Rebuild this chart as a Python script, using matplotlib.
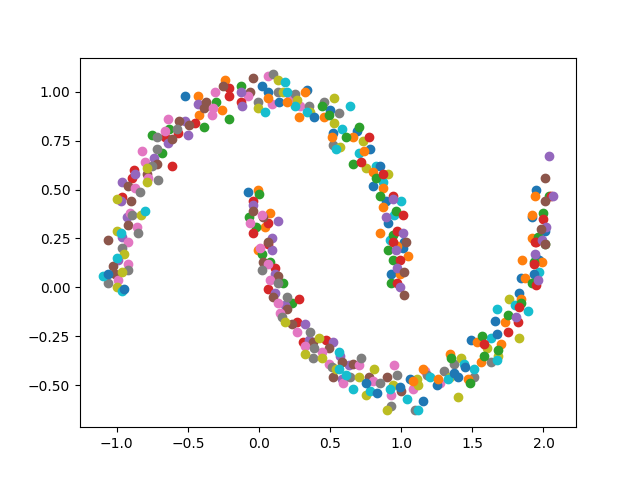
import matplotlib
matplotlib.use("Agg")
import matplotlib.pyplot as plt

# Points (two interleaving half-moons)
xs = [
 -0.52,-0.24,-0.13,-0.21,-0.13,-0.25,-0.31,-0.43,-0.30,-0.21,-0.43,-0.39,-0.33,-0.26,-0.21,-0.13,-0.12,-0.37,-0.32,-0.42,
 -0.39,-0.45,-0.52,-0.56,-0.64,-0.58,-0.63,-0.57,-0.50,-0.49,-0.66,-0.72,-0.75,-0.66,-0.64,-0.61,-0.82,-0.72,-0.68,-0.61,
 -0.74,-0.72,-0.80,-0.75,-0.79,-0.88,-0.87,-0.79,-0.78,-0.71,-0.79,-0.89,-0.96,-0.92,-0.87,-0.84,-1.00,-0.96,-0.97,-0.90,
 -0.91,-0.89,-0.83,-0.80,-0.93,-0.92,-0.86,-0.85,-1.00,-0.97,-0.96,-1.06,-0.92,-0.96,
 -0.95,-1.00,-0.99,-1.03,-0.92,-0.92,-0.96,-1.10,-1.06,-1.01,-0.99,-1.06,-1.00,-0.96,-0.95,
 -0.04,0.06,0.10,0.13,0.18,0.02,-0.06,-0.08,-0.01,-0.01,0.04,0.06,0.06,0.09,0.13,0.17,0.20,0.14,0.20,0.22,
 0.25,0.27,0.25,0.34,0.32,0.29,0.35,0.36,0.34,0.39,0.28,0.44,0.46,0.53,0.64,0.50,0.46,0.49,0.56,0.53,
 0.58,0.52,0.51,0.61,0.52,0.57,0.54,0.69,0.66,0.70,0.77,0.73,0.70,0.78,0.74,0.66,0.72,0.75,0.82,0.85,
 0.80,0.82,0.87,0.91,0.87,0.80,0.87,0.85,0.94,0.94,1.00,0.89,0.87,0.96,1.01,0.89,0.95,0.91,0.85,0.94,
 0.97,1.01,0.92,1.02,0.97,
 0.91,0.94,0.96,1.03,1.01,1.05,0.94,0.99,0.97,1.02,0.93,0.99,0.93,0.97,0.99,1.02,
 -0.08,-0.01,0.00,-0.04,-0.04,-0.04,0.02,0.08,-0.07,0.06,0.13,0.03,-0.06,0.04,-0.02,-0.04,0.09,0.06,0.01,
 -0.01,0.02,0.06,0.09,0.03,0.06,0.02,0.08,0.11,0.11,0.13,0.08,0.13,0.17,0.06,0.11,0.10,0.13,0.20,0.23,
 0.28,0.18,0.20,0.15,0.16,0.18,0.27,0.32,0.23,0.27,0.36,0.42,0.31,0.35,0.38,0.32,0.39,0.32,0.47,0.52,
 0.49,0.44,0.38,0.44,0.56,0.57,0.58,0.49,0.51,0.54,0.56,0.63,0.66,0.70,0.72,0.81,0.61,0.58,0.52,0.59,
 0.64,0.70,0.66,0.75,0.77,0.80,0.85,0.75,0.78,0.83,0.90,0.95,0.97,0.94,0.92,0.99,1.00,0.93,0.93,0.90,
 1.04,1.06,1.08,1.08,1.10,
 1.11,1.12,1.15,1.15,1.17,1.18,1.12,1.20,1.25,1.26,1.27,1.30,1.34,1.33,1.37,1.34,1.35,1.37,1.42,1.44,
 1.40,1.47,1.48,1.51,1.40,1.51,1.45,1.56,1.58,1.63,1.68,1.67,1.49,1.53,1.57,1.58,1.60,1.63,1.67,1.70,
 1.68,1.75,1.83,1.67,1.66,1.73,1.75,1.82,1.76,1.80,1.83,1.84,1.84,1.83,1.81,1.89,1.84,1.87,1.92,1.95,
 1.96,1.97,1.93,1.85,1.93,1.93,1.94,1.95,1.97,1.99,2.01,1.95,
 2.04,2.01,1.95,1.94,2.04,2.05,2.07,2.01,1.92,1.92,2.00,2.00,2.02,1.98,2.01,1.92,1.96,1.94,1.99,2.01,
]
ys = [
 0.98,1.06,1.03,1.02,1.00,1.03,1.00,0.98,0.95,0.98,0.94,0.92,0.88,0.91,0.86,0.95,0.93,0.95,0.92,0.88,
 0.82,0.84,0.85,0.85,0.86,0.81,0.81,0.79,0.78,0.83,0.80,0.77,0.78,0.77,0.74,0.76,0.70,0.71,0.69,0.62,
 0.66,0.63,0.64,0.62,0.61,0.60,0.58,0.58,0.56,0.55,0.54,0.56,0.54,0.52,0.51,0.49,0.45,0.46,0.44,0.44,
 0.38,0.37,0.37,0.39,0.36,0.32,0.31,0.28,0.29,0.28,0.26,0.24,0.23,0.20,
 0.17,0.15,0.14,0.11,0.12,0.09,0.08,0.06,0.07,0.07,0.04,0.02,0.00,-0.02,-0.01,
 1.07,1.08,1.09,1.06,1.05,1.03,1.00,0.98,0.95,0.92,0.90,1.00,0.97,0.94,1.00,1.00,1.00,0.95,0.95,0.97,
 0.99,0.96,0.93,1.01,1.00,0.93,0.93,0.90,0.90,0.87,0.87,0.93,0.95,0.97,0.93,0.91,0.87,0.88,0.89,0.84,
 0.81,0.79,0.77,0.77,0.73,0.72,0.71,0.80,0.77,0.82,0.77,0.75,0.69,0.71,0.70,0.63,0.64,0.61,0.62,0.62,
 0.59,0.56,0.58,0.58,0.54,0.52,0.51,0.47,0.47,0.45,0.44,0.44,0.41,0.39,0.37,0.36,0.37,0.33,0.28,0.27,
 0.29,0.28,0.24,0.23,0.21,
 0.19,0.23,0.19,0.23,0.20,0.16,0.14,0.14,0.10,0.08,0.07,0.07,0.02,0.02,0.00,-0.04,
 0.49,0.50,0.48,0.44,0.42,0.39,0.37,0.38,0.36,0.33,0.34,0.36,0.33,0.31,0.31,0.28,0.25,0.23,0.20,
 0.19,0.17,0.22,0.19,0.13,0.12,0.09,0.13,0.10,0.07,0.06,0.04,0.02,0.02,-0.01,-0.03,-0.05,-0.08,-0.05,-0.08,
 -0.06,-0.09,-0.11,-0.13,-0.15,-0.18,-0.18,-0.19,-0.19,-0.23,-0.23,-0.26,-0.28,-0.27,-0.28,-0.30,-0.31,-0.34,-0.27,-0.28,
 -0.31,-0.33,-0.36,-0.36,-0.33,-0.35,-0.38,-0.39,-0.41,-0.42,-0.42,-0.40,-0.39,-0.40,-0.36,-0.42,-0.45,-0.47,-0.46,-0.49,
 -0.46,-0.46,-0.52,-0.49,-0.46,-0.48,-0.49,-0.55,-0.53,-0.54,-0.46,-0.40,-0.45,-0.50,-0.52,-0.51,-0.53,-0.55,-0.61,-0.63,
 -0.57,-0.47,-0.48,-0.52,-0.63,
 -0.47,-0.63,-0.58,-0.42,-0.43,-0.45,-0.50,-0.46,-0.50,-0.47,-0.49,-0.43,-0.46,-0.47,-0.44,-0.34,-0.36,-0.39,-0.36,-0.39,
 -0.46,-0.47,-0.49,-0.46,-0.56,-0.42,-0.41,-0.38,-0.35,-0.38,-0.35,-0.37,-0.27,-0.28,-0.25,-0.29,-0.31,-0.26,-0.24,-0.29,
 -0.32,-0.23,-0.26,-0.11,-0.17,-0.18,-0.14,-0.18,-0.06,-0.09,-0.03,-0.06,-0.08,-0.10,-0.15,-0.12,0.05,0.05,0.02,0.01,
 0.04,0.08,0.07,0.14,0.13,0.12,0.17,0.15,0.14,0.13,0.22,0.23,
 0.67,0.56,0.50,0.47,0.47,0.47,0.47,0.44,0.36,0.37,0.38,0.35,0.31,0.30,0.29,0.25,0.26,0.23,0.24,0.22,
]

n = min(len(xs), len(ys))
# draw order permutation so the default colour cycle is spread around
order = sorted(range(n), key=lambda i: (i * 61) % n)

fig, ax = plt.subplots(figsize=(6.4, 4.8), dpi=100)
for i in order:
    ax.scatter(xs[i], ys[i])
fig.savefig("out.png")
